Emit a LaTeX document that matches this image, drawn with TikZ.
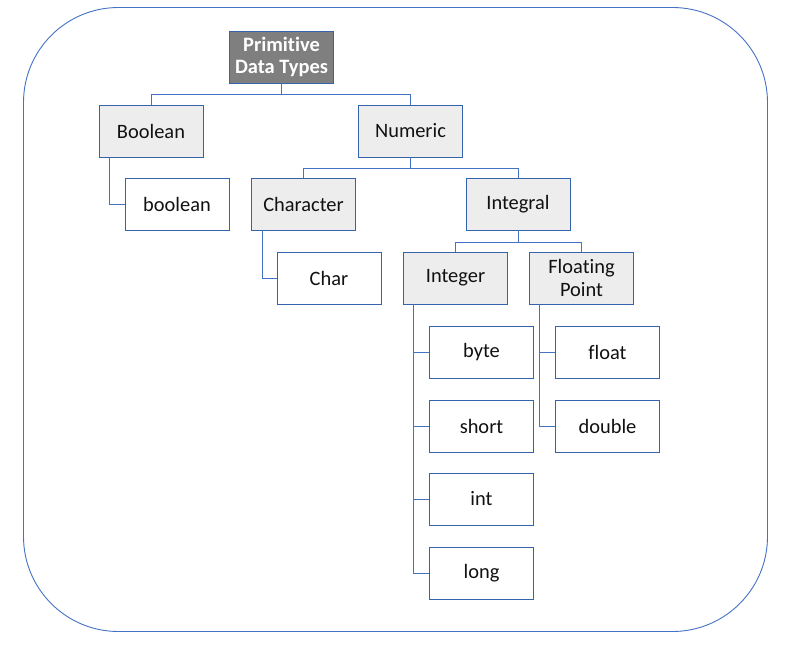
\documentclass[tikz,border=0pt]{standalone}
\usepackage{fontspec}
\setmainfont[Ligatures={NoCommon}]{Carlito}
\begin{document}
\begin{tikzpicture}[x=1bp,y=-1bp]
\definecolor{bordc}{HTML}{3563AE}
\definecolor{linec}{HTML}{4472C4}
\definecolor{catfill}{HTML}{EDEDED}
\definecolor{rootfill}{HTML}{7F7F7F}
\definecolor{txt}{HTML}{111111}
\tikzset{
  basebox/.style={draw=bordc, line width=0.9bp, minimum width=104bp, minimum height=52bp,
    inner sep=0pt, align=center, text=txt,
    font=\fontsize{20.5pt}{22.5pt}\selectfont},
  catbox/.style={basebox, fill=catfill},
  leafbox/.style={basebox, fill=white},
  rootbox/.style={basebox, fill=rootfill, text=white, font=\fontsize{20.5pt}{22.5pt}\selectfont\bfseries},
  conn/.style={draw=linec, line width=0.9bp},
}
\useasboundingbox (0,0) rectangle (789,653);
\draw[linec, line width=0.9bp, rounded corners=95bp] (23.5,7.5) rectangle (767.5,631.5);

\node[rootbox] (root) at (281.5,57) {Primitive\\Data Types};
\node[catbox] (bool) at (151,131) {Boolean};
\node[catbox] (num) at (410.5,131) {Numeric};
\node[leafbox] (boolv) at (177,204) {boolean};
\node[catbox] (char) at (303.5,204) {Character};
\node[catbox] (integral) at (518,204) {Integral};
\node[leafbox] (charv) at (329,278) {Char};
\node[catbox] (integer) at (455.5,278) {Integer};
\node[catbox] (fp) at (581.5,278) {Floating\\Point};
\node[leafbox] (byte) at (481.5,352) {byte};
\node[leafbox] (short) at (481.5,426) {short};
\node[leafbox] (int) at (481.5,499) {int};
\node[leafbox] (long) at (481.5,573) {long};
\node[leafbox] (float) at (607.5,352) {float};
\node[leafbox] (double) at (607.5,426) {double};

\draw[conn] (root.south) -- ++(0,11) -| (bool.north);
\draw[conn] (root.south) -- ++(0,11) -| (num.north);
\draw[conn] (num.south) -- ++(0,11) -| (char.north);
\draw[conn] (num.south) -- ++(0,11) -| (integral.north);
\draw[conn] (integral.south) -- ++(0,11.5) -| (integer.north);
\draw[conn] (integral.south) -- ++(0,11.5) -| (fp.north);

\draw[conn] ([xshift=11bp]bool.south west) |- (boolv.west);
\draw[conn] ([xshift=11bp]char.south west) |- (charv.west);
\draw[conn] ([xshift=10bp]integer.south west) |- (long.west);
\draw[conn] ([xshift=10bp]integer.south west) |- (byte.west);
\draw[conn] ([xshift=10bp]integer.south west) |- (short.west);
\draw[conn] ([xshift=10bp]integer.south west) |- (int.west);
\draw[conn] ([xshift=10bp]fp.south west) |- (double.west);
\draw[conn] ([xshift=10bp]fp.south west) |- (float.west);
\end{tikzpicture}
\end{document}
